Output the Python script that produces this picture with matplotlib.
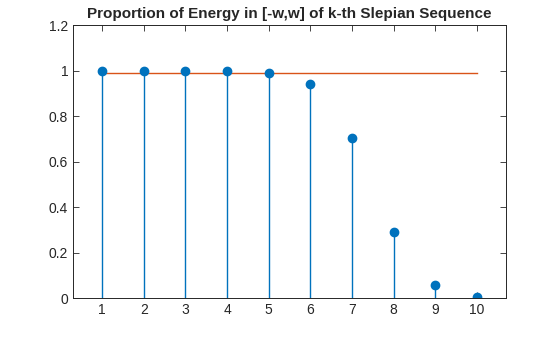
import numpy as np
import matplotlib.pyplot as plt

plt.rcParams['font.family'] = ['Liberation Sans', 'DejaVu Sans']

# Proportion of energy in [-w,w] for each Slepian sequence
k = [1, 2, 3, 4, 5, 6, 7, 8, 9, 10]
energy = [0.9999, 0.9999, 0.9998, 0.9994, 0.9902, 0.9401, 0.7030, 0.2920, 0.0560, 0.0040]
threshold = 0.99

blue = '#0072BD'
orange = '#D95319'
dark = '#262626'

fig = plt.figure(figsize=(5.6, 3.37), dpi=100)
ax = fig.add_axes([0.1304, 0.1157, 0.7732, 0.8101])

ax.plot([k[0], k[-1]], [threshold, threshold], color=orange, linewidth=1)
markerline, stemlines, baseline = ax.stem(k, energy, basefmt=' ')
plt.setp(stemlines, color=blue, linewidth=1)
plt.setp(markerline, color=blue, marker='o', markersize=6,
         markerfacecolor=blue, markeredgecolor=blue)

ax.set_xlim(0.3, 10.7)
ax.set_ylim(0, 1.2)
ax.set_xticks(k)
ax.set_yticks([0, 0.2, 0.4, 0.6, 0.8, 1, 1.2])
ax.set_yticklabels(['0', '0.2', '0.4', '0.6', '0.8', '1', '1.2'])
ax.tick_params(direction='in', top=True, right=True, length=4, width=0.6,
               colors=dark, labelsize=10, labelcolor=dark)
for s in ax.spines.values():
    s.set_color(dark)
    s.set_linewidth(0.7)

ax.set_title('Proportion of Energy in [-w,w] of k-th Slepian Sequence',
             fontsize=11, fontweight='bold', color=dark, pad=5)

plt.savefig('out.png', dpi=100)
